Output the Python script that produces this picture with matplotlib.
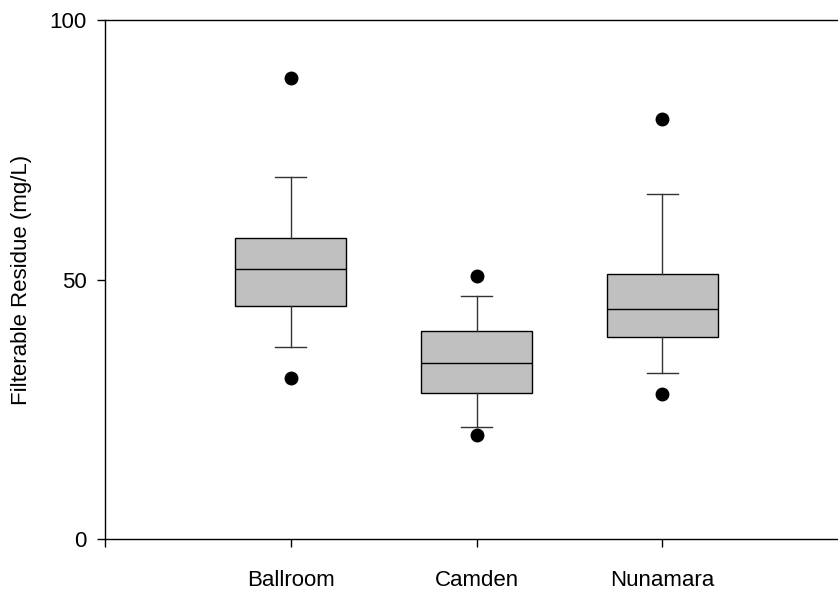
import matplotlib
matplotlib.use("Agg")
import matplotlib.pyplot as plt

plt.rcParams['font.family'] = ['Liberation Sans', 'DejaVu Sans']

# box plot summaries (mg/L)
sites = ['Ballroom', 'Camden', 'Nunamara']
median = [52.0, 33.9, 44.3]
q1 = [44.9, 28.2, 38.9]
q3 = [57.9, 40.1, 51.0]
whisker_lo = [36.9, 21.6, 31.9]
whisker_hi = [69.7, 46.9, 66.4]
outliers = [[31.0, 88.8], [20.1, 50.7], [28.0, 81.0]]

stats = []
for i in range(len(sites)):
    stats.append({
        'med': median[i], 'q1': q1[i], 'q3': q3[i],
        'whislo': whisker_lo[i], 'whishi': whisker_hi[i],
        'fliers': outliers[i], 'label': sites[i],
    })

fig = plt.figure(figsize=(8.38, 5.94), dpi=100)
# axes runs past the right edge of the figure
ax = fig.add_axes([105 / 838, 55 / 594, 743 / 838, 519 / 594])

ax.bxp(stats, positions=[1, 2, 3], widths=0.6, capwidths=0.167,
       patch_artist=True, showfliers=True,
       boxprops=dict(facecolor='#c0c0c0', edgecolor='black', linewidth=1.0),
       medianprops=dict(color='black', linewidth=1.0),
       whiskerprops=dict(color='#333333', linewidth=1.0),
       capprops=dict(color='#333333', linewidth=1.0),
       flierprops=dict(marker='o', markerfacecolor='black',
                       markeredgecolor='black', markersize=9))

ax.set_xlim(0, 4)
ax.set_ylim(0, 100)
ax.set_xticks([0, 1, 2, 3, 4])
ax.set_xticklabels([''] + sites + [''])
ax.set_yticks([0, 50, 100])
ax.tick_params(axis='x', length=6, width=1.0, pad=16, labelsize=16)
ax.tick_params(axis='y', length=6, width=1.0, pad=7, labelsize=16)

ax.spines['right'].set_visible(False)
for s in ['left', 'bottom', 'top']:
    ax.spines[s].set_linewidth(1.0)

ax.set_ylabel('Filterable Residue (mg/L)', fontsize=16)
ax.yaxis.set_label_coords(-0.098, 0.5)

fig.savefig('out.png', dpi=100)
